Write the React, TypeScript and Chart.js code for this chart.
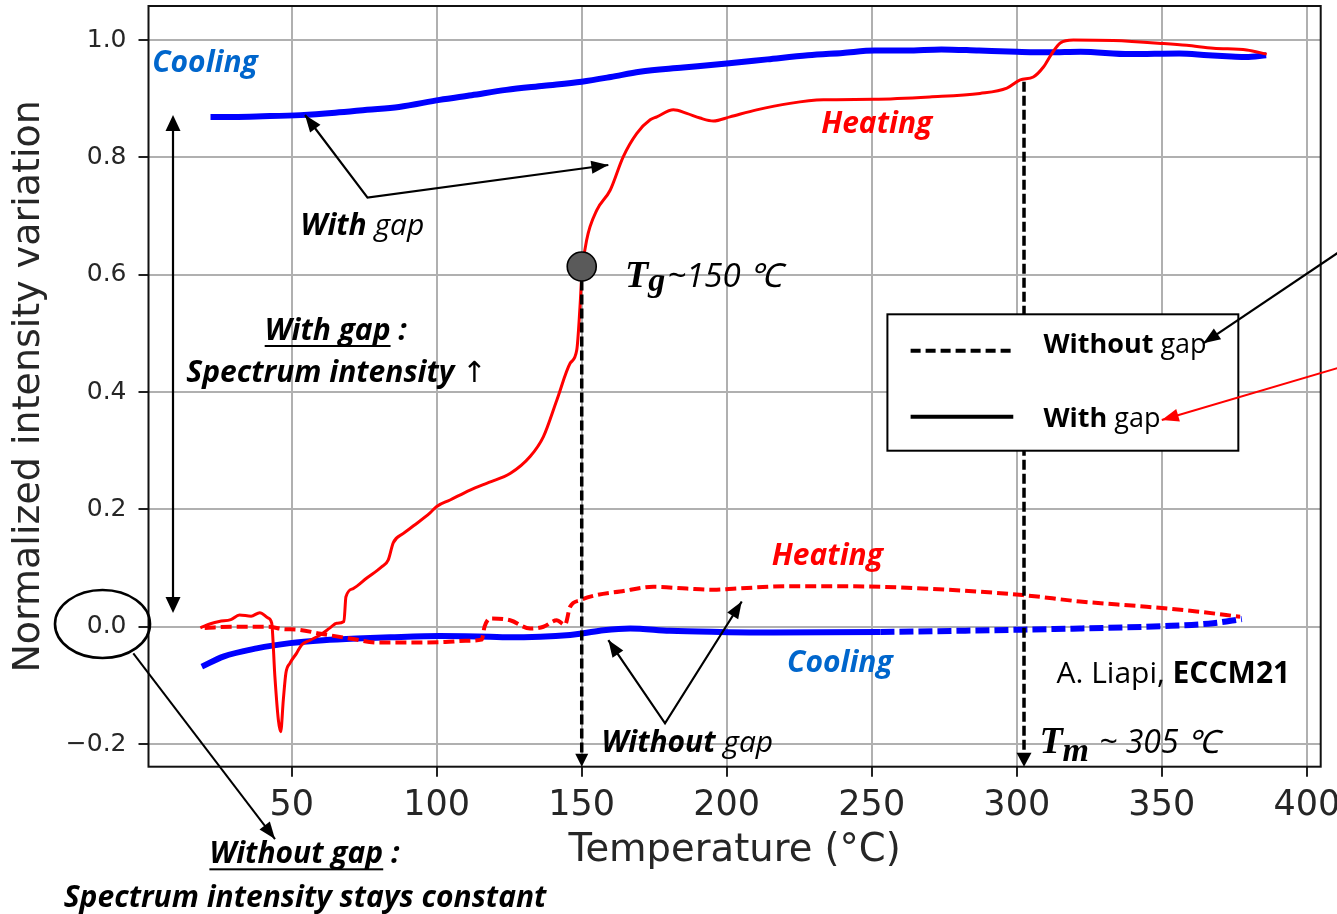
import React, { useEffect, useRef } from 'react';
import { Chart, registerables } from 'chart.js';

Chart.register(...registerables);

// ---------- data ----------
// Cooling, with gap (blue, solid)
const coolingGapT = [22, 30, 40, 53, 65, 76, 87, 101, 112, 124, 137, 150, 160, 170, 185, 200, 214, 228, 240, 251, 262, 274, 287, 300, 311, 322, 339, 356, 366, 374, 379, 386];
const coolingGapV = [0.869, 0.869, 0.870, 0.872, 0.876, 0.881, 0.886, 0.898, 0.906, 0.915, 0.922, 0.929, 0.937, 0.946, 0.953, 0.960, 0.967, 0.974, 0.978, 0.982, 0.982, 0.984, 0.982, 0.980, 0.979, 0.980, 0.976, 0.977, 0.974, 0.972, 0.971, 0.974];

// Heating, with gap (red, solid)
const heatingGapT = [18.5, 22, 25, 29, 32, 36, 39, 41.8, 43.1, 44.2, 45.4, 46.2, 47.1, 48, 49.4, 51.7, 53.4, 56.3, 59.8, 63.2, 65.5, 68, 68.7, 71.2, 75.9, 81, 83.3, 85, 88.5, 92, 97.7, 100, 104.6, 111.5, 118, 125.3, 132.2, 136.8, 141.4, 146, 148.3, 149.4, 150, 151.7, 155.2, 159.8, 164.3, 169, 173.6, 175.9, 181.6, 186.2, 190.8, 195.4, 201.1, 210.3, 221.8, 233.3, 250.6, 270, 287.3, 296.6, 301.2, 305.7, 309.2, 312.1, 315, 319.5, 333.3, 350.6, 358.6, 367.8, 379.3, 386.2];
const heatingGapV = [-0.002, 0.005, 0.009, 0.012, 0.02, 0.018, 0.024, 0.015, 0.006, -0.085, -0.159, -0.179, -0.125, -0.079, -0.062, -0.045, -0.031, -0.023, -0.014, -0.002, 0.006, 0.009, 0.051, 0.065, 0.083, 0.102, 0.114, 0.143, 0.159, 0.172, 0.194, 0.205, 0.216, 0.233, 0.246, 0.261, 0.29, 0.324, 0.386, 0.449, 0.472, 0.545, 0.597, 0.659, 0.71, 0.744, 0.801, 0.841, 0.864, 0.869, 0.881, 0.875, 0.867, 0.862, 0.869, 0.881, 0.892, 0.898, 0.899, 0.903, 0.909, 0.918, 0.932, 0.937, 0.954, 0.977, 0.995, 1.0, 0.999, 0.994, 0.991, 0.986, 0.983, 0.976];

// Heating, without gap (red, dashed)
const heatingNoGapT = [20, 30, 42, 47, 52, 60, 70, 80, 90, 103, 110, 115.5, 116.5, 118.4, 125.3, 132.2, 136.8, 141.4, 144.2, 146, 149.4, 155.2, 163.2, 174.7, 186.2, 195.4, 203.4, 220.7, 240, 253, 276, 302, 321.8, 344.8, 362, 377];
const heatingNoGapV = [-0.002, 0.0, 0.0, -0.004, -0.005, -0.012, -0.02, -0.027, -0.027, -0.026, -0.024, -0.022, 0.0, 0.014, 0.011, -0.003, 0.0, 0.011, 0.003, 0.034, 0.045, 0.054, 0.06, 0.068, 0.065, 0.063, 0.065, 0.069, 0.069, 0.068, 0.063, 0.054, 0.043, 0.034, 0.026, 0.017];

// Cooling, without gap (blue, dashed)
const coolingNoGapT = [19, 26.4, 37.9, 49.4, 60.9, 72.4, 83.9, 101.1, 118.4, 124, 146, 150.6, 157.5, 166.7, 180.4, 197.7, 214.9, 253, 302, 321.8, 350.4, 367.7, 377.6];
const coolingNoGapV = [-0.068, -0.051, -0.037, -0.028, -0.023, -0.02, -0.018, -0.016, -0.017, -0.018, -0.014, -0.011, -0.006, -0.003, -0.007, -0.009, -0.01, -0.009, -0.005, -0.003, 0.001, 0.006, 0.013];

const xTicks = [50, 100, 150, 200, 250, 300, 350, 400];
const yTicks = [-0.2, 0.0, 0.2, 0.4, 0.6, 0.8, 1.0];

const TG = 150; // glass transition marker (°C)
const TG_V = 0.614;
const TM = 302.5; // melting marker (°C)
const TM_V = 0.929;

// ---------- styles ----------
const RED = '#ff0000';
const BLUE = '#0000ff';
const BLUE_TXT = '#0066cc';
const SANS = '"Open Sans"';
const BI = `italic bold 30px ${SANS}`;
const IT = `italic 30px ${SANS}`;

type Seg = { t: string; f: string; c?: string; u?: boolean };

function rich(ctx: CanvasRenderingContext2D, segs: Seg[], x: number, y: number, align: 'left' | 'center') {
  ctx.save();
  ctx.textBaseline = 'alphabetic';
  ctx.textAlign = 'left';
  let total = 0;
  const ws = segs.map((s) => {
    ctx.font = s.f;
    const w = ctx.measureText(s.t).width;
    total += w;
    return w;
  });
  let cx = align === 'center' ? x - total / 2 : x;
  segs.forEach((s, i) => {
    ctx.font = s.f;
    ctx.fillStyle = s.c || '#000';
    ctx.fillText(s.t, cx, y);
    if (s.u) ctx.fillRect(cx, y + 5, ws[i], 2);
    cx += ws[i];
  });
  ctx.restore();
  return cx;
}

function head(ctx: CanvasRenderingContext2D, x1: number, y1: number, x2: number, y2: number, len: number, wid: number, color: string) {
  const a = Math.atan2(y2 - y1, x2 - x1);
  const bx = x2 - len * Math.cos(a);
  const by = y2 - len * Math.sin(a);
  ctx.save();
  ctx.fillStyle = color;
  ctx.beginPath();
  ctx.moveTo(x2, y2);
  ctx.lineTo(bx + (wid / 2) * Math.sin(a), by - (wid / 2) * Math.cos(a));
  ctx.lineTo(bx - (wid / 2) * Math.sin(a), by + (wid / 2) * Math.cos(a));
  ctx.closePath();
  ctx.fill();
  ctx.restore();
}

function line(ctx: CanvasRenderingContext2D, pts: number[][], color: string, lw: number, dash: number[] = []) {
  ctx.save();
  ctx.strokeStyle = color;
  ctx.lineWidth = lw;
  ctx.setLineDash(dash);
  ctx.beginPath();
  pts.forEach((p, i) => (i === 0 ? ctx.moveTo(p[0], p[1]) : ctx.lineTo(p[0], p[1])));
  ctx.stroke();
  ctx.restore();
}

// annotation texts in data coordinates (temperature, value)
const labels: { x: number; y: number; align: 'left' | 'center'; segs: Seg[] }[] = [
  { x: 20.1, y: 0.9455, align: 'center', segs: [{ t: 'Cooling', f: BI, c: BLUE_TXT }] },
  { x: 251.7, y: 0.8415, align: 'center', segs: [{ t: 'Heating', f: BI, c: RED }] },
  { x: 234.7, y: 0.105, align: 'center', segs: [{ t: 'Heating', f: BI, c: RED }] },
  { x: 239.0, y: -0.0767, align: 'center', segs: [{ t: 'Cooling', f: BI, c: BLUE_TXT }] },
  { x: 74.4, y: 0.6676, align: 'center', segs: [{ t: 'With', f: BI }, { t: ' gap', f: IT }] },
  { x: 65.2, y: 0.4887, align: 'center', segs: [{ t: 'With gap', f: BI, u: true }, { t: ' :', f: BI }] },
  { x: 65.4, y: 0.4176, align: 'center', segs: [{ t: 'Spectrum intensity ', f: BI }, { t: '\u2191', f: '29px "DejaVu Sans"' }] },
  { x: 186.4, y: -0.2131, align: 'center', segs: [{ t: 'Without', f: BI }, { t: ' gap', f: IT }] },
  { x: 54.4, y: -0.4033, align: 'center', segs: [{ t: 'Without gap', f: BI, u: true }, { t: ' :', f: BI }] },
  { x: 54.6, y: -0.4772, align: 'center', segs: [{ t: 'Spectrum intensity stays constant', f: BI }] },
  { x: 354.0, y: -0.0965, align: 'center', segs: [{ t: 'A. Liapi, ', f: `30px ${SANS}` }, { t: 'ECCM21', f: `bold 30px ${SANS}` }] },
];

const annotationPlugin = {
  id: 'annotations',
  afterDraw(chart: any) {
    const ctx: CanvasRenderingContext2D = chart.ctx;
    const xs = chart.scales.x;
    const ys = chart.scales.y;
    const X = (t: number) => xs.getPixelForValue(t);
    const Y = (v: number) => ys.getPixelForValue(v);
    const area = chart.chartArea;

    // frame
    ctx.save();
    ctx.strokeStyle = '#111';
    ctx.lineWidth = 2;
    ctx.strokeRect(area.left, area.top, area.right - area.left, area.bottom - area.top);
    ctx.restore();

    // vertical dashed arrows (Tg and Tm)
    line(ctx, [[X(TG), Y(TG_V)], [X(TG), area.bottom - 10]], '#000', 3.5, [10, 4]);
    head(ctx, X(TG), area.bottom - 20, X(TG), area.bottom, 13, 13, '#000');
    line(ctx, [[X(TM), Y(TM_V)], [X(TM), area.bottom - 10]], '#000', 3.5, [10, 4]);
    head(ctx, X(TM), area.bottom - 20, X(TM), area.bottom, 14, 15, '#000');

    // Tg marker
    ctx.save();
    ctx.beginPath();
    ctx.arc(X(TG), Y(TG_V), 14.5, 0, Math.PI * 2);
    ctx.fillStyle = '#5a5a5a';
    ctx.fill();
    ctx.lineWidth = 1.6;
    ctx.strokeStyle = '#000';
    ctx.stroke();
    ctx.restore();

    // Tg text
    ctx.save();
    ctx.textBaseline = 'alphabetic';
    let cx = X(164.9);
    const by = Y(0.5795);
    ctx.fillStyle = '#000';
    ctx.font = 'italic bold 38px "Liberation Serif"';
    ctx.fillText('T', cx, by);
    cx += ctx.measureText('T').width;
    ctx.font = 'italic bold 34px "Liberation Serif"';
    ctx.fillText('g', cx, by + 4);
    cx += ctx.measureText('g').width + 2;
    ctx.font = `italic 33px ${SANS}`;
    ctx.fillText('~150 \u2103', cx, by);

    // Tm text
    cx = X(307.8);
    const by2 = Y(-0.2158);
    ctx.font = 'italic bold 38px "Liberation Serif"';
    ctx.fillText('T', cx, by2);
    cx += ctx.measureText('T').width;
    ctx.font = 'italic bold 34px "Liberation Serif"';
    ctx.fillText('m', cx, by2 + 8);
    cx += ctx.measureText('m').width + 10;
    ctx.font = `italic 32px ${SANS}`;
    ctx.fillText('~ 305 \u2103', cx, by2);
    ctx.restore();

    // texts
    labels.forEach((l) => rich(ctx, l.segs, X(l.x), Y(l.y), l.align));

    // double-headed vertical arrow
    const dx = X(9.07);
    line(ctx, [[dx, Y(0.8722) + 12], [dx, Y(0.0234) - 12]], '#000', 2.2);
    head(ctx, dx, Y(0.5), dx, Y(0.8722), 16, 15, '#000');
    head(ctx, dx, Y(0.5), dx, Y(0.0234), 16, 15, '#000');

    // "With gap" arrows
    const v1 = [X(76.14), Y(0.7315)];
    const a1 = [X(54.59), Y(0.8722)];
    const a2 = [X(159.17), Y(0.787)];
    line(ctx, [a1, v1, a2], '#000', 2.2);
    head(ctx, v1[0], v1[1], a1[0], a1[1], 17, 13, '#000');
    head(ctx, v1[0], v1[1], a2[0], a2[1], 17, 13, '#000');

    // "Without gap" arrows
    const v2 = [X(178.72), Y(-0.1647)];
    const b1 = [X(159.17), Y(-0.0227)];
    const b2 = [X(205.17), Y(0.043)];
    line(ctx, [b1, v2, b2], '#000', 2.2);
    head(ctx, v2[0], v2[1], b1[0], b1[1], 17, 13, '#000');
    head(ctx, v2[0], v2[1], b2[0], b2[1], 17, 13, '#000');

    // ellipse around 0.0 label + arrow
    ctx.save();
    ctx.beginPath();
    const ex = X(-15.24);
    const ey = Y(0.0046);
    ctx.ellipse(ex, ey, X(16.38) - X(0), Y(0) - Y(0.058), 0, 0, Math.PI * 2);
    ctx.lineWidth = 2.6;
    ctx.strokeStyle = '#000';
    ctx.stroke();
    ctx.restore();
    const c1 = [X(-4.62), Y(-0.0453)];
    const c2 = [X(44.24), Y(-0.3619)];
    line(ctx, [c1, c2], '#000', 2);
    head(ctx, c1[0], c1[1], c2[0], c2[1], 17, 13, '#000');

    // legend box
    const lx1 = X(255.4), lx2 = X(376.4), ly1 = Y(0.5325), ly2 = Y(0.3);
    ctx.save();
    ctx.fillStyle = '#fff';
    ctx.fillRect(lx1, ly1, lx2 - lx1, ly2 - ly1);
    ctx.strokeStyle = '#000';
    ctx.lineWidth = 2;
    ctx.strokeRect(lx1, ly1, lx2 - lx1, ly2 - ly1);
    ctx.restore();
    line(ctx, [[X(263.4), Y(0.4704)], [X(298.8), Y(0.4704)]], '#000', 4, [10, 5]);
    line(ctx, [[X(263.4), Y(0.3579)], [X(298.8), Y(0.3579)]], '#000', 4);
    rich(ctx, [{ t: 'Without', f: `bold 27px ${SANS}` }, { t: ' gap', f: `27px ${SANS}` }], X(309.2), Y(0.466), 'left');
    rich(ctx, [{ t: 'With', f: `bold 27px ${SANS}` }, { t: ' gap', f: `27px ${SANS}` }], X(309.2), Y(0.3409), 'left');

    // arrows pointing into the legend from the right
    const d1 = [X(413.2), Y(0.6455)];
    const d2 = [X(364.34), Y(0.483)];
    line(ctx, [d1, d2], '#000', 2.2);
    head(ctx, d1[0], d1[1], d2[0], d2[1], 17, 13, '#000');
    const e1 = [X(413.2), Y(0.4445)];
    const e2 = [X(350), Y(0.3523)];
    line(ctx, [e1, e2], RED, 2);
    head(ctx, e1[0], e1[1], e2[0], e2[1], 17, 13, RED);
  },
};

const pts = (t: number[], v: number[]) => t.map((x, i) => ({ x, y: v[i] }));

export default function App() {
  const ref = useRef<HTMLCanvasElement | null>(null);

  useEffect(() => {
    if (!ref.current) return;
    const chart = new Chart(ref.current, {
      type: 'line',
      data: {
        datasets: [
          {
            label: 'Heating, with gap',
            data: pts(heatingGapT, heatingGapV),
            borderColor: RED,
            borderWidth: 3,
            pointRadius: 0,
            cubicInterpolationMode: 'monotone',
            order: 1,
          },
          {
            label: 'Heating, without gap',
            data: pts(heatingNoGapT, heatingNoGapV),
            borderColor: RED,
            borderWidth: 4,
            borderDash: [11, 5],
            pointRadius: 0,
            cubicInterpolationMode: 'monotone',
            order: 2,
          },
          {
            label: 'Cooling, with gap',
            data: pts(coolingGapT, coolingGapV),
            borderColor: BLUE,
            borderWidth: 6,
            pointRadius: 0,
            cubicInterpolationMode: 'monotone',
            order: 3,
          },
          {
            label: 'Cooling, without gap',
            data: pts(coolingNoGapT, coolingNoGapV),
            borderColor: BLUE,
            borderWidth: 6,
            pointRadius: 0,
            cubicInterpolationMode: 'monotone',
            segment: {
              borderDash: (c: any) => (c.p0.parsed.x >= 215 ? [14, 5] : undefined),
            },
            order: 4,
          },
        ],
      },
      options: {
        responsive: false,
        devicePixelRatio: 1,
        animation: false,
        layout: { padding: { left: 0, right: 16.3, top: 6, bottom: 0 } },
        plugins: { legend: { display: false }, tooltip: { enabled: false } },
        scales: {
          x: {
            type: 'linear',
            min: 0.62,
            max: 404.8,
            afterBuildTicks: (s: any) => {
              s.ticks = xTicks.map((v) => ({ value: v }));
            },
            afterFit: (s: any) => {
              s.height = 147.3;
              s.paddingLeft = 0;
              s.paddingRight = 0;
              s.paddingTop = 0;
              s.paddingBottom = 0;
            },
            grid: { color: '#b0b0b0', lineWidth: 2, tickLength: 10, tickColor: '#222', tickWidth: 2 },
            border: { display: false },
            ticks: {
              autoSkip: false,
              maxRotation: 0,
              padding: 8,
              color: '#262626',
              font: { family: '"DejaVu Sans"', size: 35 },
              callback: (v: any) => String(v),
            },
            title: {
              display: true,
              text: 'Temperature (\u00b0C)',
              color: '#262626',
              font: { family: '"DejaVu Sans"', size: 38.5 },
              padding: { top: 0, bottom: 40 },
            },
          },
          y: {
            type: 'linear',
            min: -0.2386,
            max: 1.058,
            afterBuildTicks: (s: any) => {
              s.ticks = yTicks.map((v) => ({ value: v }));
            },
            afterFit: (s: any) => {
              s.width = 148.5;
              s.paddingLeft = 0;
              s.paddingRight = 0;
              s.paddingTop = 0;
              s.paddingBottom = 0;
            },
            grid: { color: '#b0b0b0', lineWidth: 2, tickLength: 10, tickColor: '#222', tickWidth: 2 },
            border: { display: false },
            ticks: {
              autoSkip: false,
              padding: 12,
              color: '#262626',
              font: { family: '"DejaVu Sans"', size: 25 },
              callback: (v: any) => (v < 0 ? '\u2212' : '') + Math.abs(v).toFixed(1),
            },
            title: {
              display: true,
              text: 'Normalized intensity variation',
              color: '#262626',
              font: { family: '"DejaVu Sans"', size: 38 },
              padding: { top: 6, bottom: 0 },
            },
          },
        },
      },
      plugins: [annotationPlugin],
    } as any);
    return () => chart.destroy();
  }, []);

  return (
    <div style={{ position: 'fixed', left: 0, top: 0, width: 1337, height: 914, background: '#fff' }}>
      <canvas ref={ref} width={1337} height={914} style={{ display: 'block', width: 1337, height: 914 }} />
    </div>
  );
}
